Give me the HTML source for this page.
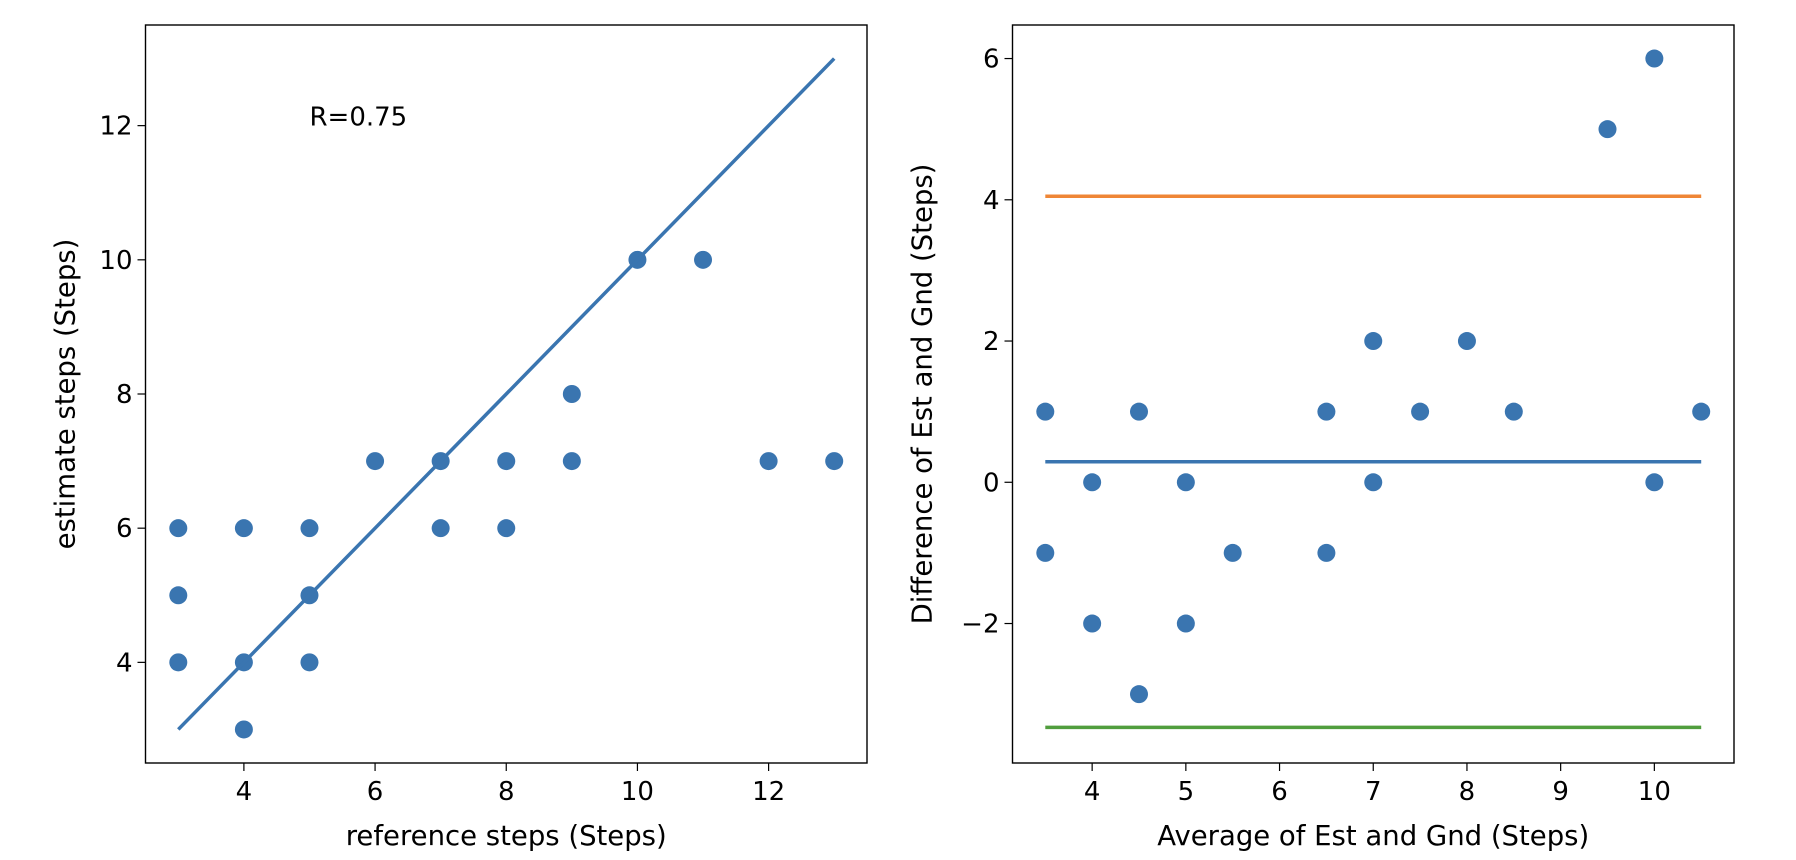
<!DOCTYPE html>
<html><head><meta charset="utf-8"><style>
html,body{margin:0;padding:0;background:#fff;}
svg{display:block;font-family:"DejaVu Sans","Liberation Sans",sans-serif;}
</style></head><body>
<svg id="fig" width="1796" height="860" viewBox="0 0 1796 860"></svg>
<script>
// Left chart data
const refSteps = [3,3,3,4,4,4,5,5,5,6,7,7,8,8,9,9,10,11,12,13];
const estSteps = [6,5,4,6,4,3,6,5,4,7,7,6,7,6,8,7,10,10,7,7];
const fitX = [3,13];
const fitY = [3,13];
const leftXTicks = [4,6,8,10,12];
const leftYTicks = [4,6,8,10,12];
const rText = "R=0.75";
// Right chart data
const avgVals = [3.5,3.5,4,4,4.5,4.5,5,5,5.5,6.5,6.5,7,7,7.5,8,8.5,9.5,10,10,10.5];
const diffVals = [1,-1,0,-2,1,-3,0,-2,-1,1,-1,2,0,1,2,1,5,6,0,1];
const meanDiff = 0.29;
const upperLoA = 4.05;
const lowerLoA = -3.47;
const lineXRange = [3.5,10.5];
const rightXTicks = [4,5,6,7,8,9,10];
const rightYTicks = [-2,0,2,4,6];

const NS="http://www.w3.org/2000/svg";
const svg=document.getElementById('fig');
function mk(tag,attrs,parent){const e=document.createElementNS(NS,tag);for(const k in attrs)e.setAttribute(k,attrs[k]);(parent||svg).appendChild(e);return e;}
function scale(d0,d1,r0,r1){return v=>r0+(v-d0)/(d1-d0)*(r1-r0);}
const blue="#3a75b0";

function axes(x0,x1,y0,y1,xs,ys,xt,yt,xlab,ylab,prefix){
  const g=mk('g',{});
  
  
  xt.forEach(t=>{
    const x=xs(t);
    const l=mk('line',{x1:x,x2:x,y1:y1,y2:y1+8,stroke:'#000','stroke-width':1.2},g);
    
    
    const tx=mk('text',{x:x,y:y1+37,'text-anchor':'middle','font-size':26},g);
    tx.textContent=String(t);
    
    
  });
  yt.forEach(t=>{
    const y=ys(t);
    const l=mk('line',{x1:x0-8,x2:x0,y1:y,y2:y,stroke:'#000','stroke-width':1.2},g);
    
    
    const tx=mk('text',{x:x0-13,y:y+9,'text-anchor':'end','font-size':26},g);
    tx.textContent=(t<0?'\u2212'+(-t):String(t));
    
    
  });
  const xl=mk('text',{x:(x0+x1)/2,y:845,'text-anchor':'middle','font-size':27.5},g);
  xl.textContent=xlab;
  
  
  const yx=x0-(prefix==='left'?71:81), yc=(y0+y1)/2;
  const yl=mk('text',{x:yx,y:yc,'text-anchor':'middle','font-size':27.5,transform:`rotate(-90 ${yx} ${yc})`},g);
  yl.textContent=ylab;
  
  
}
function frame(x0,x1,y0,y1,prefix){
  const r=mk('rect',{x:x0,y:y0,width:x1-x0,height:y1-y0,fill:'none',stroke:'#000','stroke-width':1.4});
  
  
}

// Left
{
  const x0=145.5,x1=867,y0=25,y1=763;
  const xs=scale(2.5,13.5,x0,x1), ys=scale(2.5,13.5,y1,y0);
  axes(x0,x1,y0,y1,xs,ys,leftXTicks,leftYTicks,'reference steps (Steps)','estimate steps (Steps)','left');
  refSteps.forEach((v,i)=>{
    const c=mk('circle',{cx:xs(v),cy:ys(estSteps[i]),r:9,fill:blue});
    
    
  });
  const ln=mk('line',{x1:xs(fitX[0]),y1:ys(fitY[0]),x2:xs(fitX[1]),y2:ys(fitY[1]),stroke:blue,'stroke-width':3.5});
  
  
  const t=mk('text',{x:xs(5),y:ys(12)+0,'font-size':26});
  t.textContent=rText;
  
  
  frame(x0,x1,y0,y1,'left');
}
// Right
{
  const x0=1012.5,x1=1734,y0=25,y1=763;
  const xs=scale(3.15,10.85,x0,x1), ys=scale(-3.975,6.475,y1,y0);
  axes(x0,x1,y0,y1,xs,ys,rightXTicks,rightYTicks,'Average of Est and Gnd (Steps)','Difference of Est and Gnd (Steps)','right');
  avgVals.forEach((v,i)=>{
    const c=mk('circle',{cx:xs(v),cy:ys(diffVals[i]),r:9,fill:blue});
    
    
  });
  const lines=[[meanDiff,blue,'mean-difference-line'],[upperLoA,'#ef8636','upper-limit-line'],[lowerLoA,'#519e3e','lower-limit-line']];
  lines.forEach(([v,col,name])=>{
    const l=mk('line',{x1:xs(lineXRange[0]),x2:xs(lineXRange[1]),y1:ys(v),y2:ys(v),stroke:col,'stroke-width':3.5});
    
    
  });
  frame(x0,x1,y0,y1,'right');
}
</script>
</body></html>
